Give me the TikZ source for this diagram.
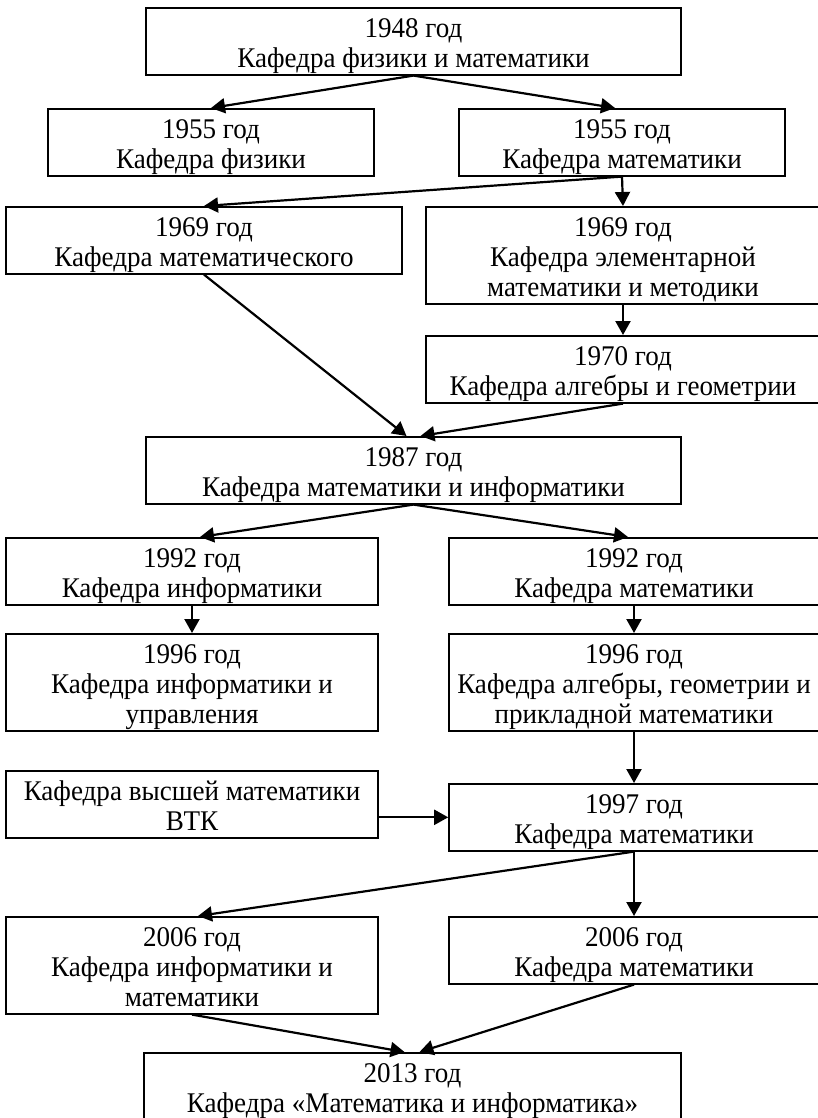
\documentclass[tikz,border=0pt]{standalone}
\usepackage{fontspec}
\setmainfont{Liberation Serif}[FakeStretch=0.95]
\usetikzlibrary{arrows.meta}
\newcommand{\kt}{\rule{0pt}{29.5pt}}
\newcommand{\kb}{\rule[-7.5pt]{0pt}{7.5pt}}

\begin{document}
\begin{tikzpicture}[x=1pt,y=-1pt,
	kaf/.style={draw=black,line width=1.6pt,anchor=north,align=center,inner xsep=0pt,inner ysep=0pt,minimum width=#1},
	kaf/.default=372pt,
	arr/.style={-{Triangle[length=14pt,width=15pt]},line width=2.2pt}]
	\tikzstyle{every node}+=[font=\fontsize{28.5}{30}\selectfont]
	\useasboundingbox (0,0) rectangle (817,1118);
	% boxes
	\node[kaf=535pt] (b1948) at (413.5,7) {\kt 1948 год\\Кафедра физики и математики\kb};
	\node[kaf=326pt] (b1955f) at (211,108) {\kt 1955 год\\Кафедра физики\kb};
	\node[kaf=326pt] (b1955m) at (622,108) {\kt 1955 год\\Кафедра математики\kb};
	\node[kaf=396pt] (b1969a) at (204,206) {\kt 1969 год\\Кафедра математического\kb};
	\node[kaf=394pt] (b1969e) at (623,206) {\kt 1969 год\\Кафедра элементарной\\математики и методики\kb};
	\node[kaf=394pt] (b1970) at (623,335) {\kt 1970 год\\Кафедра алгебры и геометрии\kb};
	\node[kaf=535pt] (b1987) at (413.5,436) {\kt 1987 год\\Кафедра математики и информатики\kb};
	\node[kaf] (b1992i) at (192,537) {\kt 1992 год\\Кафедра информатики\kb};
	\node[kaf=370pt] (b1992m) at (634,537) {\kt 1992 год\\Кафедра математики\kb};
	\node[kaf] (b1996i) at (192,633) {\kt 1996 год\\Кафедра информатики и\\управления\kb};
	\node[kaf=370pt] (b1996m) at (634,633) {\kt 1996 год\\Кафедра алгебры, геометрии и\\прикладной математики\kb};
	\node[kaf] (bvtk) at (192,770) {\kt Кафедра высшей математики\\ВТК\kb};
	\node[kaf=370pt] (b1997) at (634,783) {\kt 1997 год\\Кафедра математики\kb};
	\node[kaf] (b2006i) at (192,916) {\kt 2006 год\\Кафедра информатики и\\математики\kb};
	\node[kaf=370pt] (b2006m) at (634,916) {\kt 2006 год\\Кафедра математики\kb};
	\node[kaf=537pt] (b2013) at (412.5,1052) {\kt 2013 год\\Кафедра «Математика и информатика»\kb};
	% arrows
	\draw[arr] (b1948.south) -- (b1955f.north);
	\draw[arr] (b1948.south) -- ([xshift=-7pt]b1955m.north);
	\draw[arr] (b1955m.south) -- (b1969a.north);
	\draw[arr] (b1955m.south) -- (b1969e.north);
	\draw[arr] (b1969a.south) -- ([xshift=-7pt]b1987.north);
	\draw[arr] (b1969e.south) -- (b1970.north);
	\draw[arr] (b1970.south) -- ([xshift=7pt]b1987.north);
	\draw[arr] (b1987.south) -- ([xshift=8pt]b1992i.north);
	\draw[arr] (b1987.south) -- ([xshift=-6pt]b1992m.north);
	\draw[arr] (b1992i) -- (b1996i);
	\draw[arr] (b1992m) -- (b1996m);
	\draw[arr] (b1996m) -- (b1997);
	\draw[arr] (bvtk.east |- b1997.west) -- (b1997.west);
	\draw[arr] (b1997.south) -- ([xshift=6pt]b2006i.north);
	\draw[arr] (b1997) -- (b2006m);
	\draw[arr] (b2006i.south) -- ([xshift=-8pt]b2013.north);
	\draw[arr] (b2006m.south) -- ([xshift=7pt]b2013.north);
\end{tikzpicture}
\end{document}
